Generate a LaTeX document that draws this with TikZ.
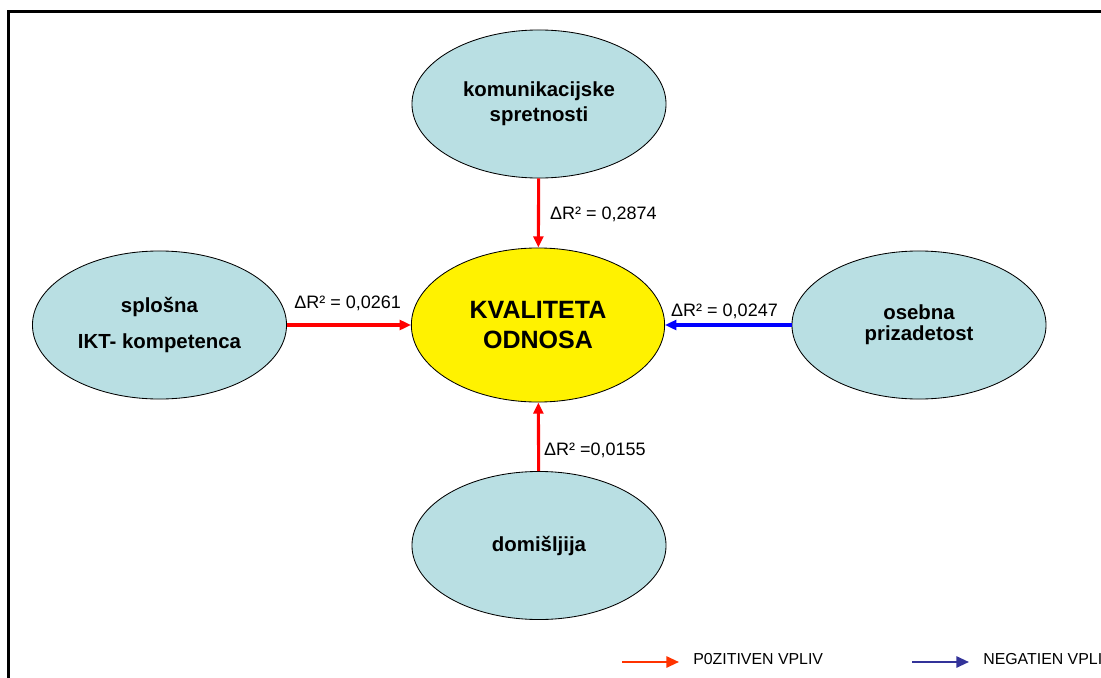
\documentclass[tikz,border=0pt]{standalone}
\usepackage{fontspec}
\setmainfont{Liberation Sans}
\usetikzlibrary{shapes.geometric,arrows.meta}
\definecolor{factorfill}{HTML}{B9DFE3}
\definecolor{posred}{HTML}{FF0000}
\definecolor{negblue}{HTML}{0000FF}
\definecolor{legred}{HTML}{FF3300}
\definecolor{legblue}{HTML}{333399}
\tikzset{
  factor/.style={ellipse, draw=black, line width=0.6pt, fill=factorfill,
    minimum width=6.35cm, minimum height=3.7cm, inner sep=0pt, align=center,
    font=\bfseries\fontsize{14.5pt}{17.8pt}\selectfont},
  core/.style={ellipse, draw=black, line width=0.6pt, fill=yellow,
    minimum width=6.33cm, minimum height=3.85cm, inner sep=0pt, align=center,
    font=\bfseries\fontsize{17.8pt}{21.3pt}\selectfont},
  effect/.style={line width=2.2pt, -{Triangle[length=8pt,width=7pt]}},
  posarrow/.style={effect, draw=posred},
  negarrow/.style={effect, draw=negblue},
  coef/.style={font=\fontsize{12.8pt}{15pt}\selectfont, inner sep=0pt},
  legarrow/.style={line width=1.5pt, -{Triangle[length=9pt,width=8pt]}},
  legtext/.style={font=\fontsize{11.3pt}{13pt}\selectfont, anchor=west, inner sep=0pt}
}
\begin{document}
\begin{tikzpicture}[x=0.025cm,y=-0.025cm]
\useasboundingbox (0,0) rectangle (1101,678);
\clip (0,0) rectangle (1101,678);
% outer frame
\draw[line width=1.5pt] (8.5,11.5) rectangle (1130,710);

% factors
\node[factor] (kom) at (539,104) {komunikacijske\\spretnosti};
\node[factor, font=\bfseries\fontsize{14.5pt}{24.9pt}\selectfont] (ikt) at (159.5,325) {splošna\\IKT- kompetenca};
\node[core] (kval) at (538,325) {KVALITETA\\ODNOSA};
\node[factor, font=\bfseries\fontsize{14.5pt}{16.6pt}\selectfont] (ose) at (919,325) {\raisebox{-1.5pt}{osebna}\\prizadetost};
\node[factor] (dom) at (539,545.5) {domišljija};

% effects
\draw[posarrow] (kom) -- (kval)
  node[coef, anchor=west, pos=0.5, xshift=10*0.025cm, yshift=-1*0.025cm] (c1) {ΔR² = 0,2874};
\draw[posarrow] (ikt) -- (kval)
  node[coef, pos=0.49, yshift=22*0.025cm] (c2) {ΔR² = 0,0261};
\draw[negarrow] (ose) -- (kval)
  node[coef, pos=0.53, yshift=14*0.025cm] (c3) {ΔR² = 0,0247};
\draw[posarrow] (dom) -- (kval)
  node[coef, anchor=west, pos=0.3, xshift=4*0.025cm] (c4) {ΔR² =0,0155};

% legend
\coordinate (pa) at (622,662);
\coordinate (pb) at (679,662);
\draw[legarrow, draw=legred] (pa) -- (pb);
\node[legtext] (pt) at (693,659) {P0ZITIVEN VPLIV};
\coordinate (na) at (912,662);
\coordinate (nb) at (969,662);
\draw[legarrow, draw=legblue] (na) -- (nb);
\node[legtext] (nt) at (983,659) {NEGATIEN VPLIV};
\end{tikzpicture}
\end{document}
